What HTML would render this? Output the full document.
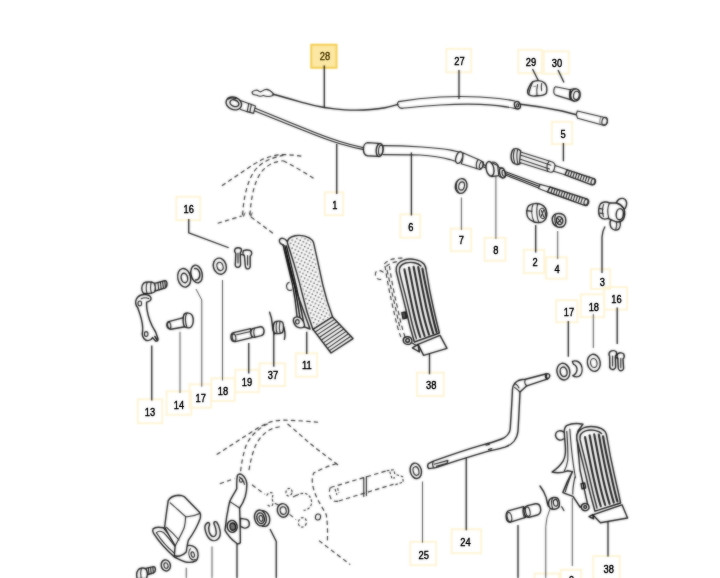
<!DOCTYPE html>
<html lang="en">
<head>
<meta charset="utf-8">
<title>Parts diagram</title>
<style>
html,body{margin:0;padding:0;background:#fff;}
body{width:720px;height:578px;overflow:hidden;position:relative;font-family:"Liberation Sans",sans-serif;}
svg{position:absolute;left:0;top:0;display:block;}
.l{stroke:#161616;stroke-width:1.1;fill:none;stroke-linecap:round;stroke-linejoin:round;}
.lw{stroke:#161616;stroke-width:1.1;fill:#fff;stroke-linecap:round;stroke-linejoin:round;}
.k{stroke:#111;stroke-width:1.4;fill:none;stroke-linecap:round;stroke-linejoin:round;}
.kw{stroke:#111;stroke-width:1.4;fill:#fff;stroke-linecap:round;stroke-linejoin:round;}
.t{stroke:#555;stroke-width:.8;fill:none;stroke-linecap:round;stroke-linejoin:round;}
.d{stroke:#2a2a2a;stroke-width:1.15;fill:none;stroke-dasharray:4.4 3.2;stroke-linecap:butt;}
.ld{stroke:#111;stroke-width:1.3;fill:none;stroke-linecap:butt;}
.lg{stroke:#4a4a4a;stroke-width:1;}
.bx{fill:none;stroke:#fef4d6;stroke-width:2;}
.bh{fill:#fce8a4;stroke:#f3cd52;stroke-width:2;}
.n{font-family:"Liberation Sans",sans-serif;font-size:11.5px;font-weight:400;fill:#111;stroke:#111;stroke-width:.35;text-anchor:middle;}
.nh{fill:#5e4c12;stroke:#5e4c12;}
</style>
</head>
<body>
<svg width="720" height="578" viewBox="0 0 720 578">
<defs><filter id="soft2" x="-10%" y="-10%" width="120%" height="120%" color-interpolation-filters="sRGB"><feGaussianBlur in="SourceGraphic" stdDeviation="0.9" result="b"/><feComposite in="b" in2="SourceGraphic" operator="arithmetic" k1="0" k2="0.45" k3="0.75" k4="0"/></filter><filter id="soft" x="-2%" y="-2%" width="104%" height="104%" color-interpolation-filters="sRGB"><feGaussianBlur in="SourceGraphic" stdDeviation="0.9" result="b"/><feComposite in="b" in2="SourceGraphic" operator="arithmetic" k1="0" k2="0.6" k3="0.4" k4="0"/></filter></defs>
<g filter="url(#soft)">
<g id="boxes">
<rect class="bh" x="311.25" y="44.75" width="25.25" height="23.00"/>
<rect class="bx" x="446.40" y="48.90" width="24.70" height="23.40"/>
<rect class="bx" x="518.30" y="49.80" width="23.40" height="23.40"/>
<rect class="bx" x="543.80" y="51.30" width="24.90" height="22.40"/>
<rect class="bx" x="551.80" y="121.80" width="20.40" height="22.40"/>
<rect class="bx" x="176.30" y="196.80" width="23.90" height="23.40"/>
<rect class="bx" x="324.80" y="192.30" width="18.40" height="22.90"/>
<rect class="bx" x="400.30" y="214.30" width="19.90" height="23.40"/>
<rect class="bx" x="450.80" y="228.55" width="20.40" height="22.65"/>
<rect class="bx" x="484.55" y="237.80" width="20.90" height="22.90"/>
<rect class="bx" x="523.80" y="249.80" width="20.40" height="23.40"/>
<rect class="bx" x="546.10" y="257.30" width="20.60" height="21.40"/>
<rect class="bx" x="590.90" y="269.20" width="19.30" height="19.80"/>
<rect class="bx" x="556.10" y="300.20" width="21.30" height="22.00"/>
<rect class="bx" x="580.80" y="294.40" width="23.40" height="22.80"/>
<rect class="bx" x="604.20" y="287.10" width="22.90" height="22.50"/>
<rect class="bx" x="137.80" y="399.30" width="24.40" height="23.90"/>
<rect class="bx" x="166.55" y="391.30" width="24.65" height="23.40"/>
<rect class="bx" x="189.55" y="384.30" width="21.65" height="23.40"/>
<rect class="bx" x="211.30" y="378.30" width="23.40" height="22.65"/>
<rect class="bx" x="235.30" y="369.80" width="23.40" height="22.40"/>
<rect class="bx" x="259.55" y="363.30" width="25.65" height="22.65"/>
<rect class="bx" x="295.80" y="353.30" width="21.40" height="23.40"/>
<rect class="bx" x="417.05" y="372.55" width="26.65" height="23.40"/>
<rect class="bx" x="410.30" y="541.80" width="25.90" height="23.40"/>
<rect class="bx" x="451.55" y="529.30" width="29.65" height="23.90"/>
<rect class="bx" x="593.30" y="556.05" width="26.40" height="24.15"/>
<rect class="bx" x="534.55" y="573.55" width="24.65" height="21.65"/>
<rect class="bx" x="560.80" y="569.80" width="20.40" height="21.40"/>
</g>
<!-- 00_leaders.svg -->
<g id="leaders" class="ld">
<path d="M324.3 65.5V107.5"/>
<path d="M459 70V99"/>
<path d="M532.5 69L540 84"/>
<path d="M558 70L564 82.5"/>
<path d="M563.4 143V161.25"/>
<path d="M336.75 144V194"/>
<path d="M411.4 152.5V215.5"/>
<path class="lg" d="M461.4 197.5V230"/>
<path class="lg" d="M495.9 172.5V239"/>
<path d="M535.7 225V252.5"/>
<path class="lg" d="M557.7 231V259"/>
<path d="M605 226.5Q602.3 231 602 237V273"/>
<path d="M188.75 219V232.75L228.75 247.75"/>
<path class="lg" d="M222.5 280V380.5"/>
<path class="lg" d="M196 289L201.75 300V386.75"/>
<path d="M151.75 345.5V400.5"/>
<path class="lg" d="M180 331.75V393"/>
<path d="M248.75 343V373.5"/>
<path d="M273.75 333V366.75"/>
<path d="M306.75 331.75V354"/>
<path d="M429.5 349.25V374.25"/>
<path d="M568.3 321V356.75"/>
<path class="lg" d="M593.3 314V348"/>
<path d="M617.2 307.5V344"/>
<path class="lg" d="M422.5 481.5V542.75"/>
<path d="M466.25 457.75V530.25"/>
<path d="M608 516.5V556.5"/>
<path d="M518 525V578"/>
<path class="lg" d="M550 509Q546 518 545.75 526.5V578"/>
<path class="lg" d="M572.3 498V566"/>
<path class="lg" d="M186.25 567.75V578"/>
<path class="lg" d="M212 546.5V578"/>
<path d="M237 544V578"/>
<path d="M270 529L276.25 541.5V578"/>
</g>

<!-- 05_dashed.svg -->
<g id="dashTop" class="d">
<path d="M221.900 185.800L254.200 164C260 160.400 265 158 270.800 156.500C275 155.200 279 154.600 283.300 154.600C290 154.600 296 155.400 302 156.250"/>
<path d="M283.300 160.800C294 166 306 173.600 315.600 179.600"/>
<path d="M242.700 215C243 207 244 199.600 245.800 192C247.600 184 250.400 177 254.200 171.250C258 166 263 162.400 268.750 159.800C273 158 278 156.200 283.300 155.400"/>
<path d="M250 215C250.400 207 251.400 199.600 253 192C254.600 185 257 178.600 260.400 173.300C263.600 168.600 268 165.400 273 163C276 161.800 279.600 161.200 283.300 160.800"/>
<path d="M217.700 223.300L241.700 216"/>
<path d="M251 217L275 234.800"/>
<path d="M242 212.600L243.600 216.400L245.200 212.600M249.200 212.600L250.800 216.400L252.400 212.600" stroke-dasharray="none" stroke-width=".8"/>
</g>
<g id="dashBot" class="d">
<path d="M216.700 454.600L252 431.700C258 428 264 424 270.800 421.800C276 420.400 282 420 287.500 420.200C298 420.600 309 421.400 318.750 422.300"/>
<path d="M287.500 424C295 430 302 436.600 308.300 442C317 449.400 327 456.600 338.750 465.600"/>
<path d="M240.600 471.250C241.600 462 243.400 454 245.800 446.250C248.400 440 252 435.600 256.250 431.700C260.600 427.600 265.600 424.400 270.800 422.300"/>
<path d="M249 470.200C250.400 461 252.600 453 255.200 446.250C258 440 262 435.400 266.700 431.700C271 428.600 276 427.200 281.250 426.500"/>
<path d="M219.800 483.750L234.400 478.500"/>
<path d="M252 484.800L264.600 494.200"/>
<path d="M336.700 463.500C328 466 320 469.600 313.750 473C312 477 312 481 312.700 485.400C313.800 490.600 315.600 495.400 318 500C320.600 505 323.600 509.800 326.250 514.600C327.600 523 327.800 532.600 327.300 541.700"/>
<path d="M319 540.600C329 548.600 340 556.600 350.200 564.600"/>
<path d="M330.400 487.500L386.700 470.800"/>
<path d="M338.750 501L393 484.400"/>
<path d="M330.400 487.500C328.600 491 329.200 496.400 331.600 499.600C333.600 501.600 336.400 501.800 338.750 501"/>
<path stroke-dasharray="2.6 1.8" d="M335 489L337 495M337.600 488.200L339 493"/>
<path stroke-dasharray="2.6 1.8" d="M386.700 470.800L393.600 469.800L395 474.200L402.600 476.600L403.300 482L395.600 484.600L393 484.400"/>
<path stroke-dasharray="2.6 1.8" d="M389.800 471.600L392 478.600L395 477.600"/>
<path stroke-dasharray="2.6 1.8" d="M266.700 495.600C267.600 493.400 270 492.200 272 492.800C273.400 494.400 273 496.600 271.600 498.400C272.800 500 273.600 503.200 272.400 505.200C270.800 506.600 268.400 506.200 267.400 504.600"/>
<ellipse stroke-dasharray="2.6 1.8" cx="289" cy="492.200" rx="3" ry="3.800" transform="rotate(14 289 492.200)"/>
<path stroke-dasharray="2.6 1.8" d="M296.600 495.600C299.600 493.200 304 492.600 307.400 494.400C310.600 496.400 312.200 500.400 311.400 504.200C310.400 507.600 307.400 510 303.600 510.400"/>
<ellipse stroke-dasharray="2.6 1.8" cx="302.400" cy="522.400" rx="4" ry="4.800" transform="rotate(14 302.400 522.400)"/>
<path d="M293 497L300 493.500M274.800 503.200L279.600 505.600M289.600 514.400L296 519.600"/>
</g>
<g id="solidBot">
<path class="l" stroke-width="1.600" d="M363.750 477.600V496.400M366.400 476.600V495.600" stroke-linecap="butt"/>
<ellipse class="l" cx="318" cy="517" rx="2.600" ry="3" transform="rotate(10 318 517)"/>
<ellipse class="k" cx="283" cy="510.400" rx="5.600" ry="6.800" transform="rotate(-10 283 510.400)"/>
<ellipse class="l" cx="283.200" cy="510.600" rx="3" ry="3.800" transform="rotate(-10 283.200 510.600)"/>
</g>

<!-- 10_cables.svg -->
<g id="cable28">
<path class="l" d="M252 92.2C254 89.6 257.5 89.6 259.5 91.6C261.5 93 263 89.2 266.5 89.4C269.5 89.6 271.5 91.6 273.2 93.4L273 95.4C270 96.6 266 96.6 263.5 95.4C261.5 96.6 258.5 96.2 256.5 95C254.5 95.2 252.3 94.4 252 92.2Z"/>
<path class="k" d="M273 94.2C284 97 296 100.6 305 103.2C316 106.4 330 109 345 109.9C360 110.6 376 109.4 385 107.8C390 106.8 394 105.4 398 104.4"/>
</g>
<g id="sheath27" transform="translate(0 .4)">
<path class="l" d="M398.6 101.2C410 99.4 425 97.6 440 96.6C455 95.8 470 96 480 96.6C492 97.4 505 98.6 515 100.6"/>
<path class="l" d="M401.6 108C412 107 425 105.6 440 104.6C455 103.8 470 103.6 480 104C492 104.6 505 106 516 108.2"/>
<path class="l" d="M398.6 101.2C397 102.6 397.4 104.4 398.4 105.8C399.2 107 400.2 107.8 401.6 108"/>
<ellipse class="k" cx="517.4" cy="104.8" rx="2.8" ry="3.8" transform="rotate(-20 517.4 104.8)"/>
<ellipse class="l" cx="517.6" cy="105" rx="1" ry="1.6"/>
<path class="k" d="M520.6 103.8C535 105.4 550 108 562 110.6L576.4 114.4"/>
</g>
<g id="end27">
<path class="lw" d="M577.4 111L603.6 117.3C606.6 118 607.8 120 607.4 122.2C607 124.4 605 125.6 602.4 125L577.6 118.2L576.2 114.4Z"/>
<ellipse class="l" cx="604.6" cy="121.2" rx="2.6" ry="4" transform="rotate(14 604.6 121.2)"/>
<path class="t" d="M601 116.8C599.6 119 599.4 122 600.2 124.4"/>
</g>
<g id="cap29">
<path class="kw" d="M533 81.6C537 80.2 542 80.6 544.6 83C546.6 85.4 547.2 90 546.4 93.2C545 95.2 541 95.8 537 95.8C533.6 96.4 530.4 96.2 528.6 94.6C527.2 92.8 527.6 90 528.8 87.6C529.8 85 531 82.8 533 81.6Z"/>
<path class="l" d="M528.6 94.600C529.6 90.5 530.600 86 533 81.6"/>
<path class="l" d="M537.6 84.5C536.6 88 536.6 92 537 95.8"/>
<path class="l" d="M541.600 83.600C541.2 86 541.2 88.4 541.6 90.6"/>
<path class="t" d="M533.6 86.6L535.6 86.200"/>
</g>
<g id="sleeve30">
<path class="lw" d="M555.600 86.8L570.4 89.8L570.4 99.6L556.4 95.4C554.4 94.8 553.6 92.8 553.8 90.600C554 88.4 554.600 87 555.600 86.8Z"/>
<ellipse class="kw" cx="575.4" cy="95" rx="4.8" ry="6.200" transform="rotate(10 575.4 95)"/>
<ellipse class="l" cx="576.4" cy="95.4" rx="2.8" ry="4.200" transform="rotate(10 576.4 95.4)"/>
<path class="l" d="M570.4 89.600C572 88.8 574 88.600 575.4 88.8M570.4 99.600C571.4 100.600 573 101.2 574.600 101.2"/>
<path class="l" d="M570.4 89.800C569.2 93 569.4 97 570.4 99.600"/>
</g>
<g id="cable1">
<ellipse class="k" cx="233.8" cy="103.400" rx="8" ry="6.200" transform="rotate(22 233.8 103.400)"/>
<ellipse class="k" cx="234.400" cy="103.200" rx="4.600" ry="3.200" transform="rotate(22 234.400 103.200)"/>
<path class="l" d="M228.400 99.200C230 97.800 233 97.600 236 98.600"/>
<path class="l" d="M240.400 100.400L248.600 103.600M240.600 109.400L247.400 111.800"/>
<path class="lw" d="M248.800 103.400L255.400 106L253.600 113.400L247.200 111.600Z"/>
<path class="l" d="M251.400 104.400L249.800 112.400"/>
<path class="l" d="M255.200 108.200C270 114.400 288 121.600 305 128.600C318 134 330 138.400 340 141.600C348 144.200 356 146.200 364 147.800"/>
<path class="l" d="M254.200 110.800C270 117 288 124.400 305 131C318 136.200 330 140.800 340 143.800C348 146.200 356 148.200 364 149.600"/>
</g>
<g id="sheath6">
<path class="kw" d="M367.600 142.600C365.200 142.800 363.400 145.600 363.400 149C363.400 152.600 365 155.400 367.400 155.800L378 156.400L378.600 143.400Z"/>
<ellipse class="kw" cx="379.600" cy="150" rx="3.400" ry="6.600" transform="rotate(6 379.600 150)"/>
<ellipse class="l" cx="380.800" cy="150.200" rx="2.200" ry="5" transform="rotate(6 380.800 150.200)"/>
<path class="l" d="M383 145.600C395 145.600 410 146.200 422 147C432 147.600 445 149 452 150.400L459 152"/>
<path class="l" d="M383.200 154.600C395 154.600 410 154.600 420 155C430 155.600 443 157.600 450 159.600L456.600 161.800"/>
<ellipse class="kw" cx="459.200" cy="157.600" rx="3.200" ry="6" transform="rotate(18 459.200 157.600)"/>
<path class="lw" d="M462.800 152.800L480.600 160.400C482.800 161.400 483.400 163.800 482.800 166.200C482.200 168.600 480.800 169.800 479 169.200L461.200 163.800C462.800 160.200 463.400 156 462.800 152.800Z"/>
<path class="l" d="M478 159.600C476.400 162.200 476 166 476.800 168.600"/>
<ellipse class="l" cx="481.400" cy="165" rx="1.800" ry="3.600" transform="rotate(18 481.400 165)"/>
</g>
<g id="collar8">
<path class="l" d="M483.400 164.600L487 166.200M483 166.800L486.600 168.200"/>
<path class="lw" d="M491 162.200L497.600 165.600L498.800 175.600L491.400 176.600Z"/>
<ellipse class="kw" cx="490" cy="168.800" rx="3.800" ry="7.400" transform="rotate(-12 490 168.800)"/>
<path class="l" d="M492.600 162C495 162 497.400 163.600 498.600 166.600"/>
<ellipse class="kw" cx="502.400" cy="173" rx="2.800" ry="5" transform="rotate(-14 502.400 173)"/>
<path class="l" d="M498.800 167.600L502 168M499.400 176.600L502.400 178"/>
<ellipse class="l" cx="503.800" cy="173.400" rx="1.600" ry="3.200" transform="rotate(-14 503.800 173.400)"/>
<path class="l" d="M505.600 171.800L540 184.600M505.400 175L538.600 188"/>
<path class="l" d="M505.600 173.400L539 186.200"/>
</g>
<g id="thread8">
<path class="lw" d="M540 184.400L550 187L547.600 192L538.600 188.400Z"/>
<path class="kw" d="M550 187L586 198.600C588.400 199.400 589 201.400 588.400 203.200C587.800 205 586 205.800 584 205.200L547.600 192Z"/>
<path class="l" d="M552.500 188.200l-1.600 4.600M555 189l-1.600 4.800M557.500 189.800l-1.600 4.800M560 190.600l-1.600 4.800M562.500 191.400l-1.600 4.800M565 192.200l-1.600 4.800M567.500 193l-1.600 4.800M570 193.800l-1.600 4.800M572.500 194.600l-1.600 4.800M575 195.400l-1.600 4.800M577.500 196.200l-1.600 4.800M580 197l-1.600 4.800M582.500 197.800l-1.600 4.800"/>
<ellipse class="l" cx="586" cy="202" rx="1.800" ry="3.200" transform="rotate(18 586 202)"/>
</g>
<g id="adj5">
<path class="kw" d="M513.400 149.200C515.600 148.200 518.600 148.800 520.600 150.800L520.200 163.600C518 164.800 515 164.400 513 162.800C511.200 160.400 510.800 156.400 511.400 153.400C511.800 151.400 512.400 150 513.400 149.200Z"/>
<path class="l" d="M514.400 150C513.200 153.600 513.200 158.400 514.600 162.400M517.600 149.600C516.600 153.600 516.600 158.600 517.800 163.400"/>
<path class="lw" d="M520.600 152L552.400 162C554.400 162.800 555.400 164.800 555 167.400C554.600 170 553 172.400 550.600 172.200L519.600 162.400Z"/>
<path class="l" d="M521 155.200L551 165.200M520.400 159.200L549.600 169"/>
<path class="l" d="M549 161.200C547 164 546.600 168.400 547.800 171.400"/>
<path class="lw" d="M555.200 165.600L567.400 169.800L565 174.800L553.600 171.200Z"/>
<path class="kw" d="M567.400 169.800L593 178.400C595.200 179.200 595.800 181 595.200 182.800C594.600 184.600 593 185.200 591 184.600L565 174.800Z"/>
<path class="l" d="M569.500 170.600l-1.600 4.800M572 171.400l-1.600 4.800M574.500 172.200l-1.600 4.800M577 173l-1.600 4.800M579.500 173.800l-1.600 4.800M582 174.600l-1.600 4.800M584.500 175.400l-1.600 4.800M587 176.200l-1.600 4.800M589.500 177l-1.600 4.800"/>
<ellipse class="l" cx="593" cy="181.600" rx="1.800" ry="3.200" transform="rotate(18 593 181.600)"/>
</g>
<g id="washer7">
<ellipse class="kw" cx="461.200" cy="186" rx="5.800" ry="7.400" transform="rotate(12 461.200 186)"/>
<ellipse class="l" cx="461.600" cy="186" rx="2.800" ry="4.200" transform="rotate(12 461.600 186)"/>
<path class="l" d="M456.800 182C456 185 456.400 189.600 458.400 192.200"/>
</g>

<!-- 20_midleft.svg -->
<g id="lever13">
<path class="kw" d="M154.600 283.400L164.600 280.800C166.200 280.400 167 281.800 167 283.600C167 285.800 166.400 287.600 164.800 288.200L155 291Z"/>
<path class="l" d="M158 282.600l.8 7.400M160.400 282l.8 7.200M162.600 281.400l.8 7M164.800 280.800l.6 6.800"/>
<path class="kw" d="M143.600 283.200C146 281.800 151.400 281.600 154 283C155.400 285.400 155.600 289.600 154.400 292C151.800 293.600 146.400 294 143.400 293.200C141.200 291 141.200 285.800 143.600 283.200Z"/>
<path class="l" d="M147.200 282.400C146 285.600 146 290.200 147.200 293.600M151.400 282C150.400 285.400 150.400 290 151.600 293.200"/>
<path class="kw" d="M136.800 298.400C138.400 296 142.200 294.200 146 294.600C149.200 295 151.200 296.800 151 299C150.800 300.600 148.800 301.600 146.600 302.200C146.200 308 147.600 314 149.600 320C151.200 324.600 153.400 328.600 155.600 332L158 338.800C158.400 340.600 156.800 341.800 155.200 340.600L152.600 337.600C151.200 339.800 148.200 341.200 145.600 340C142.800 338.600 141.600 334.600 142.600 331C143 326.200 141.800 320 140.200 315C139 311.400 138.200 308.800 137.600 307.400C135.200 305.200 135 301 136.800 298.400Z"/>
<ellipse class="l" cx="139.800" cy="303.400" rx="1.800" ry="2.400"/>
<ellipse class="l" cx="146.200" cy="334" rx="1.800" ry="2.400"/>
<path class="l" d="M141.200 298.800C143.600 297.600 146.400 297.600 148.600 298.600"/>
<path class="k" d="M154.800 336.400L157.200 340"/>
</g>
<g id="pin14">
<path class="kw" d="M168.600 321.600L183.600 317.600L185 326.800L171 329.200C168.800 329.400 167 327.800 166.800 325.400C166.800 323.400 167.400 322 168.600 321.600Z"/>
<ellipse class="l" cx="169.200" cy="325.400" rx="1.600" ry="3.200" transform="rotate(-10 169.200 325.400)"/>
<path class="kw" d="M184 314.400C186.400 312.400 190.400 312.600 192.200 315.400C193.800 318.400 193.600 323.600 191.600 326.400C189.800 328.200 186.400 328.400 184.400 326.600C182.800 323.400 182.600 317.600 184 314.400Z"/>
<path class="l" d="M186.600 313.400C185.200 317 185.400 323.200 187 327.400"/>
</g>
<g id="bush17">
<ellipse class="kw" cx="196.600" cy="274" rx="5.600" ry="9" transform="rotate(-12 196.600 274)"/>
<path class="k" d="M194.600 268.600C197.400 268 199.600 270.800 199.800 274.200C200 277.600 198.200 280.400 195.600 280"/>
<ellipse class="kw" cx="184.200" cy="277.800" rx="6.400" ry="9.400" transform="rotate(-12 184.200 277.800)"/>
<ellipse class="k" cx="184.400" cy="278" rx="3.200" ry="4.800" transform="rotate(-12 184.400 278)"/>
</g>
<g id="washer18">
<ellipse class="kw" cx="219.800" cy="266.200" rx="6.400" ry="8.200" transform="rotate(-16 219.800 266.200)"/>
<ellipse class="l" cx="220" cy="266.400" rx="3" ry="4.200" transform="rotate(-16 220 266.400)"/>
</g>
<g id="clip16">
<path class="kw" d="M235.400 248.600C236.600 247.400 239.600 247.400 241 248.600C241.800 250.200 241.200 252 240.200 253L240.600 264.600C240.400 266.800 238.400 267.800 236.600 267.200C235.200 266.400 235 264.600 235.400 263L235.800 253.400C234.600 252.200 234.400 250 235.400 248.600Z"/>
<path class="kw" d="M243.600 250.600C245.400 249.600 249.600 249.800 251.200 251.200C252 253 251.400 255.200 250.200 256.200L250.200 266.400C250 268.400 248.400 269.200 246.800 268.800C245.400 268.200 245.200 266.600 245.200 265L244.400 256C243 254.800 242.600 252.200 243.600 250.600Z"/>
<path class="l" d="M240.600 254.400L244.400 255.200M238 253V263M247.600 255.600V265"/>
</g>
<g id="pin19">
<path class="kw" d="M233.400 332.600L250.600 328.600L252 337.600L235.200 341.600C232.800 342 231.200 340.400 231 337.800C230.800 335.400 231.600 333 233.400 332.600Z"/>
<ellipse class="l" cx="234" cy="337.400" rx="1.800" ry="3.600" transform="rotate(-10 234 337.400)"/>
<path class="l" d="M236.600 334.800L249.600 331.800"/>
<path class="kw" d="M253.400 328.400L260.400 326.800C262.400 326.600 263.800 328.200 264 330.600C264.200 333 263.200 335 261.200 335.600L254.400 337.400C252.600 337.600 251 335.800 250.800 333.200C250.600 330.800 251.600 328.800 253.400 328.400Z"/>
<path class="l" d="M254.600 328.200C253.200 330.800 253.600 335 255.200 337.200"/>
</g>
<g id="spring37">
<path class="k" d="M269.600 312.200C271.200 316 272 320 272.200 324C272.400 327.600 273 331.400 274.200 334"/>
<path class="kw" d="M274.400 322.400C276.600 320.800 280.600 320.800 282.600 322.200C283.800 324.600 283.800 330 282.600 332.400C280.400 334 276.200 334 274.200 332.800C272.800 330 273 325 274.400 322.400Z"/>
<path class="l" d="M277 321.400C276 324.600 276 330 277.200 333.400M280 321.400C279.200 325 279.200 330 280.200 333.400"/>
<path class="k" d="M283.400 326C284.800 330 285.600 335 284.400 339.400"/>
</g>

<!-- 30_pedals.svg -->
<defs>
<pattern id="dots" x="0" y="0" width="5" height="5" patternUnits="userSpaceOnUse" patternTransform="rotate(-18)">
<circle cx="1.200" cy="1.200" r=".800" fill="#111"/>
<circle cx="3.700" cy="3.700" r=".800" fill="#111"/>
</pattern>
</defs>
<g id="pedal11">
<path class="k" d="M287 241.200C284.600 238 281 237.400 279.600 239.600C278.600 242 280.400 244.400 283.200 245"/>
<path class="kw" d="M283 244.600C286 258 289.600 272 292.400 284C294.400 294 296 305 297 316.400L300.600 325.600L310 329L296 290Z"/>
<path class="k" d="M284.800 245.600C288 259 291.600 273 294.400 285C296.600 296 298.400 308 300.600 321.400"/>
<path class="k" d="M286.400 246C290 260 293.400 274 296.200 286C298.400 296 300.800 308 303.600 322"/>
<path class="l" d="M289.200 282.400C286.600 283 286 286 287 288.400C288 290.400 290 290.800 291.600 290"/>
<path class="kw" d="M287.400 243C287.200 240 290 237 295 235.800C301 234.600 309 236.400 312.400 240.400C313.400 241.800 313.800 243.200 314 244.600C317 258 320 272 322.800 285C325.400 296 328.800 307 332.500 316.800L313 329.600C308.600 318 305 306 302 293C298 276 292.400 258 287.400 243Z"/>
<path fill="url(#dots)" stroke="none" d="M289.400 243.200C289.400 241 291.400 238.600 295.400 237.600C301 236.600 308 238 311 241.400C314 256 318 272 321 285C323.600 296 326.800 307 330.400 316L313.800 326.800C309.800 316 306.400 305 303.600 293C299.600 276 294 258 289.400 243.200Z"/>
<path class="kw" d="M313 329.400L332.500 317L353 338.600L331 353Z"/>
<path class="l" d="M315.200 332l19.400-12.600M317.400 334.600l19.500-12.800M319.600 337.200l19.600-13M321.800 339.800l19.700-13.200M324 342.400l19.800-13.400M326.200 345l19.900-13.600M328.400 347.600l20-13.800M329.800 350.400l21-14.200"/>
<path class="kw" d="M293.600 318.600C294.800 316.600 298 316.400 300 317.800C302.400 319.600 304.400 323 304.600 326.200C303 328.200 299.600 328.200 297 326.800C294.200 325 292.800 321 293.600 318.600Z"/>
<ellipse class="l" cx="297.400" cy="321.800" rx="1.800" ry="2.200"/>
</g>
<g id="pedal38c">
<path class="d" d="M383.600 272.400C381 270.400 378 270 376.200 271.600C374.600 273.600 375.200 277 377.600 278.800C379.600 280 382 279.600 383.200 278"/>
<path class="d" d="M384.300 264C387 260.400 394 257.600 403 258.200"/>
<path class="d" d="M386.200 266.400C389 263.600 394 261.600 400 261.200"/>
<path class="d" d="M385 266C387 280 390.600 298 394 312C396 322 398.600 331 401.200 338"/>
<path class="d" d="M389.400 266C391.400 280 394.600 296 398 310C400 320 402.400 329 405 337"/>
<path class="d" stroke-dasharray="1.400 3.200" d="M387 270L400.400 330" stroke-width="3.400"/>
<path class="kw" d="M396.200 271C395.400 266 398.600 261.600 404.600 259.800C411.400 258 420 259.600 424 264C425.400 266 426 268 426.200 270.400C428 282 430.400 295 433.400 308C435.400 317 437.600 326 439.400 333L414.400 342C411.200 332 408.600 322 406.200 311C403 297 399 283 396.200 271Z"/>
<path class="k" d="M416.400 338.600C413.600 330 411.400 321 409.200 311C406 297 402 283 399.400 271.600C398.800 267.600 401.200 264.400 405.600 263C411.400 261.600 418 262.800 421 266"/>
<g stroke="#111" stroke-width="2.100" fill="none" stroke-linecap="round">
<path d="M404.400 269.400C407.200 283 410 297 413.200 311C415.200 320 417.600 329.400 420.200 337"/>
<path d="M409 267.600C411.600 281 414.400 296 417.600 310C419.600 319 422 328.400 424.600 336"/>
<path d="M413.600 266.800C416.200 280 419 295 422 309C424 318 426.400 327 429 334.600"/>
<path d="M418.200 267C420.600 280 423.400 294 426.400 308C428.400 317 430.800 326 433.200 333.400"/>
<path d="M422.400 268.600C424.600 281 427.400 294 430.400 307C432.400 316 434.400 324.400 436.600 332"/>
</g>
<path class="k" d="M401.800 312.600L405.400 312L406.600 318L403 318.800Z" style="fill:#555"/>
<path class="kw" d="M412.400 347.800L418 344.400L419.400 352Z"/>
<path class="kw" d="M418 344.400L440 335.400L447 348.400L423.600 355.400Z"/>
<path class="kw" d="M404.400 337.600C406.400 336.200 409.600 336.600 411.200 338.400C412.400 340.200 412 342.600 410.400 343.800C408.400 344.800 405.400 344.400 404 342.600C403 341 403.200 338.800 404.400 337.600Z"/>
<ellipse class="k" cx="407.600" cy="340.400" rx="1.800" ry="1.800" fill="#555"/>
<path class="l" d="M411.200 342.600L416 345.200"/>
</g>

<!-- 40_midright.svg -->
<g id="nut2">
<path class="kw" d="M529 205.600C531.600 203.400 537 202.800 541.400 204.600C544.600 206.200 546.600 209.600 546.800 213.400C547 217 545.400 220.400 542.400 221.800C538.600 223.200 533.400 222.400 530 219.800C527.400 217.600 526.400 214 526.800 210.600C527 208.400 527.800 206.800 529 205.600Z"/>
<path class="l" d="M533 204.200C531.200 208.600 531.400 215.800 533.800 221.200M537.600 203.600C536.400 208.600 536.600 216.600 538.800 222.600"/>
<ellipse class="l" cx="542.400" cy="213.400" rx="3" ry="5.200" transform="rotate(-8 542.400 213.400)"/>
<path class="l" d="M541.400 210.600L543.600 216.600M543.600 210.400L541.200 216.200"/>
<path class="l" d="M527 210.600L532 211.400"/>
</g>
<g id="nut4">
<path class="kw" d="M554 215C556 213.200 560.600 213 563.400 214.800C565.400 216.600 566.200 220.400 565.400 223.600C564.200 226.600 561 227.800 557.800 227C554.600 226 552.400 223 552.200 219.600C552.200 217.600 552.800 216 554 215Z"/>
<ellipse class="k" cx="559.600" cy="220.600" rx="3.200" ry="4" transform="rotate(-10 559.600 220.600)"/>
<path class="l" d="M557.600 218.400L561.600 223M561.800 218.400L557.600 222.800M555.600 214.200C554.600 217 554.800 222 556.400 226"/>
</g>
<g id="clamp3">
<path class="kw" d="M616.400 203C617 200 620 198 623 198.400C626 199 627.200 202 626.400 205.400C625.800 208 623.600 210.200 621 210.400Z"/>
<path class="kw" d="M611.400 218.600L619.600 220.400C620.800 223.400 620.400 227.400 618.400 229.400C616 230.800 612.800 230 611 227.400C609.800 224.800 610 221 611.400 218.600Z"/>
<path class="l" d="M616.200 221C617 223.600 616.800 227 615.800 229.400"/>
<path class="kw" d="M600.600 203.600C603 201.800 607 201.400 609.400 203L616.400 203C619 203.600 621.600 205.400 623.400 208C625.400 211.400 625.200 217.400 622.400 220.400C620 222.400 616 222 613 220.600L608 218.400C605 219.600 601.600 218.800 599.800 216.400C598 213 598.400 206.600 600.600 203.600Z"/>
<ellipse class="k" cx="619.800" cy="214.200" rx="3.600" ry="5.600" transform="rotate(6 619.800 214.200)"/>
<path class="l" d="M609.400 203C607.600 207 607.400 213.400 608.800 218.200M603.600 204.600C602.200 208 602.200 212.600 603.400 216.400"/>
<path class="l" d="M599.400 208.400L603 209.200M599.600 213L603.200 213.600"/>
</g>
<g id="bush17r">
<path class="kw" d="M572.400 361.400C575.400 360 579.400 361.400 581 364.600C582.600 368 582.400 372.600 580.400 375.200C578.400 377.200 575 377.200 572.800 375.600C574.600 375 576.600 373 577 370.200C577.400 367.400 575.600 364.600 573.600 364.400C573 363.400 572.600 362.400 572.400 361.400Z"/>
<ellipse class="kw" cx="563.400" cy="371.600" rx="6.400" ry="8.400" transform="rotate(-12 563.400 371.600)"/>
<ellipse class="k" cx="563.600" cy="371.800" rx="3.400" ry="4.800" transform="rotate(-12 563.600 371.800)"/>
</g>
<g id="washer18r">
<ellipse class="kw" cx="593.800" cy="362.800" rx="6.400" ry="8.600" transform="rotate(-10 593.800 362.800)"/>
<ellipse class="l" cx="593.800" cy="363" rx="3.200" ry="4.600" transform="rotate(-10 593.800 363)"/>
</g>
<g id="clip16r">
<path class="kw" d="M610.200 351.600C612 350.200 615 350.400 616.400 352C617 353.800 616.400 355.600 615.400 356.400L615.600 367.200C615.200 369.200 613 370 611.200 369.200C609.800 368.400 609.400 366.600 609.800 365L609.600 356.400C608.800 355 609 352.800 610.200 351.600Z"/>
<path class="kw" d="M618 353.600C619.800 352.400 622.600 352.600 623.800 354.200C624.600 356 624 358 623 359L623.600 368.400C623.200 370.400 621.200 371.200 619.600 370.400C618.200 369.600 618 368 618.200 366.400L617.800 358.600C616.800 357.200 616.800 354.800 618 353.600Z"/>
<path class="l" d="M615.400 357.600L618 358.400M612.600 356V366M620.800 358.400V367.600"/>
</g>
<g id="rod24">
<path class="kw" d="M546.600 373.800L525.600 379.200C522 379.200 517.400 380.200 514.800 383.200C512.800 385.600 512.200 388.600 512.400 391.400C511.800 404 511 417 510.200 429C509.600 433 506.400 437 501.600 439C495 441.600 488 443.600 481 445.400C465 450 449 455.600 433.400 461.200L428.400 463.600C427.400 465.400 427.600 467.600 429 468.600L435.800 467.600C450 462.800 465 458 480 453.600C488 451.200 497 449.400 505 447.200C512 445 517.200 439 518 431C518.800 418 519.400 405 520 392L526.800 385.800L547.800 378.800C549.400 377.800 550 376.400 549.600 375C549 373.600 547.800 373.400 546.600 373.800Z"/>
<path class="k" d="M546.400 374.200C545.600 375.600 545.800 377.600 547 378.800" style="stroke-width:2"/>
<path class="l" d="M525.600 379.200C524.200 381.200 524.400 384.200 526.800 385.800"/>
<path class="l" d="M514.600 387.400C516.400 388.800 518.600 390.600 520 392M514.800 383.400C516.800 384.200 518.400 386 519 388"/>
<path class="l" d="M434 464.200L448 460.400M436.400 466.400L447 463.200L448 460.400"/>
<path class="l" d="M433.400 461.600C432 463.400 432.400 466.400 434 467.800"/>
<path class="l" d="M486 445.200L489.400 444.400M488.400 449.600L491.800 448.600"/>
</g>
<g id="washer25">
<ellipse class="kw" cx="415.800" cy="470.800" rx="5.600" ry="7.800" transform="rotate(-14 415.800 470.800)"/>
<ellipse class="l" cx="416" cy="471" rx="2.800" ry="4.400" transform="rotate(-14 416 471)"/>
</g>

<!-- 50_pedal38r.svg -->
<g id="pedal38r">
<path class="k" d="M563.600 432C560.600 430 557.400 430.600 556 433C554.800 435.400 556 438.400 558.400 439.600C560 440.400 562 440 563.400 439"/>
<path class="kw" d="M566.400 425.600C571 423.400 577.400 423 583 424.200L578 431L576.800 436L580 470L588 506L580 507L573 496.400C569.400 494.600 565.400 494.200 562.800 492.400C565.600 485 569 478 572.400 471.600L567.400 470.800C563 472.600 557 473.400 552 472C556.400 469 561 464.600 563.200 460.800C565.400 457 565.600 452 565.400 447.600C565 441.600 564.200 435.200 564.200 430.400C564.600 428.400 565.200 426.600 566.400 425.600Z"/>
<path class="l" d="M569.800 429C570.600 440 571.600 452 573 462C573.600 467 574.600 472.600 575.400 477.600"/>
<path class="l" d="M566.800 431.400C567.600 442 568.200 452 567.800 460C567.200 464 566 468 564.400 470.800"/>
<path class="l" d="M572.400 471.600C570 478 566.800 485.600 565.400 491.600M575 477C573.800 482 572.600 488 572.800 494"/>
<path class="kw" d="M576.800 438.600C576 433.600 579.400 429 585.400 427.200C592.400 425.400 601 427 605 431.400C606.400 433.400 606.800 435.400 607 437.600C609 450 611.600 463 614.600 476C616.600 485 618.800 494 620.600 503L595 511.200C591.800 500 589 490 586.600 479C583.400 465 579.600 451 576.800 438.600Z"/>
<path class="k" d="M597 508C594.200 498 592 489 589.800 479C586.600 465 582.600 451 580 439.200C579.400 435.200 581.800 432 586.200 430.600C592 429.200 598.600 430.400 601.600 433.600"/>
<g stroke="#111" stroke-width="2.100" fill="none" stroke-linecap="round">
<path d="M585 437C587.800 451 590.600 465 593.800 479C595.800 488 598.200 498 600.800 506.200"/>
<path d="M589.600 435.200C592.200 449 595 464 598.200 478C600.200 487 602.600 497 605.200 505"/>
<path d="M594.200 434.400C596.800 448 599.600 463 602.600 477C604.600 486 607 496 609.600 503.800"/>
<path d="M598.800 434.600C601.200 448 604 462 607 476C609 485 611.400 495 613.800 502.600"/>
<path d="M603 436.200C605.200 449 608 462 611 475C613 484 615 493.600 617.400 501.400"/>
</g>
<path class="k" d="M581 483.600L584.600 483L585.600 488L582 488.800Z"/>
<path class="kw" d="M589 516.600L592.800 514.600L593.600 518.800Z"/>
<path class="kw" d="M592.800 514.800L622 504.800L627.600 518L600.400 522.800Z"/>
<path class="kw" d="M582.400 504.400C584.400 503 587.200 503.400 588.400 505.200C589.400 507 589 509.200 587.400 510.200C585.600 511 583 510.600 581.800 509C581 507.600 581.200 505.400 582.400 504.400Z"/>
<ellipse class="k" cx="585.200" cy="507" rx="1.400" ry="1.400"/>
</g>
<g id="pin_br">
<path class="kw" d="M509 510.600L523.600 506.600L525.600 517.400L510.400 522.200C508 522.600 506.400 520.400 506.200 517.200C506 514 507 511.200 509 510.600Z"/>
<ellipse class="l" cx="509.400" cy="517" rx="2.200" ry="4.600" transform="rotate(-12 509.400 517)"/>
<path class="kw" d="M527.400 505.600L535.600 503.800C538.200 503.600 540.200 505.600 540.600 508.600C541 511.600 539.800 514.200 537.400 515L529 517.400C526.600 517.600 524.400 515.400 524 512C523.600 509 525 506.200 527.400 505.600Z"/>
<ellipse class="l" cx="527.800" cy="511.600" rx="2.200" ry="4.800" transform="rotate(-12 527.800 511.600)"/>
<path class="l" d="M523.600 506.600C522.400 509.600 522.800 514.600 524.600 517.600"/>
</g>
<g id="spring_br">
<path class="k" d="M540 486C542.600 489.400 545 493.600 546.200 497.600C546.800 500.200 547.200 503.400 548.400 506.200"/>
<path class="kw" d="M549.600 499.400C551.600 497.400 555.600 496.800 557.800 498.400C559.600 500.600 560 505.200 558.600 507.600C556.600 509.400 552.600 509.800 550.200 508.400C548.200 506.200 548 502 549.600 499.400Z"/>
<ellipse class="l" cx="555.600" cy="502.800" rx="2.200" ry="3.400" transform="rotate(-10 555.600 502.800)"/>
<path class="l" d="M552.400 498C551.400 501 551.600 506 552.800 509"/>
<path class="l" d="M561.600 506.600L564 510.600"/>
</g>

<!-- 60_bottomleft.svg -->
<g id="housing">
<path class="kw" d="M153 529C154.600 527.200 158.600 526.800 163.400 527.800L176 543L187.600 545.600C191 544.800 195 546.600 196.800 549.600C198.600 553 198.600 558 196.200 560.600C193 562.400 188.600 562.600 185.600 562C181.400 560.800 177.400 558.400 174.400 557C166 549.600 158.400 541 153.600 533.400C152.600 531.800 152.400 530.200 153 529Z"/>
<path class="l" d="M156.400 532.600C158 531 161 531 163.400 532.400C167.600 536.600 171.400 541.600 174.600 546"/>
<path class="l" d="M156.600 533C161 540 167.600 547.600 174.600 553.400"/>
<path class="l" d="M190.400 548.600C188.600 550.600 188.400 554.600 189.800 557.600C191.200 559.600 193.400 560.400 195.400 559.600"/>
<ellipse class="l" cx="192.800" cy="554.600" rx="1.600" ry="2.800" transform="rotate(-14 192.800 554.600)"/>
<path class="kw" d="M168.200 500.600C170 497.600 174.400 495.400 178.600 495.200C181 495.200 183 495.800 184.400 496.800L199.800 512.600C200.800 514.400 200.600 517 200 519C198.600 523 197 526 195.600 528.800C193.400 533 190.800 537 188.300 540.300C187.400 544 186.800 548 186.200 552C183.600 554.600 180 556.200 177.200 556.300L174.400 555.600C174.600 551.400 175 548.600 175.100 545.900C171.600 539.600 167.400 533 164.700 527C165.600 518 167 509 168.200 500.600Z"/>
<path class="l" d="M170.300 502.800C175 507 181 512.600 185.600 516.700C190 517 195.600 515.600 199.600 513.600"/>
<path class="l" d="M185.600 516.700C185.600 520.600 185 524.600 184.200 527.800C181.600 534 178 540.600 175.100 545.900"/>
<path class="l" d="M166.600 527.400C170.600 531 175.600 536 179 540"/>
</g>
<g id="cclip">
<path class="k" d="M207.600 522.600C205.600 523.800 204.600 526 205 528.600C205.600 532.600 207.400 537 210.200 539.400C212.600 541.200 216 541 218 539C220 537 220.600 533.600 220 530.400C219.400 527.400 218.200 524 216.800 522.200C215.600 521.200 214.200 521.600 213.800 523C214.800 525.400 216 529 216.200 531.600C216.400 534.400 215.400 536.400 213.400 536.600C211.400 536.400 209.800 534 209 531.200C208.400 528.800 208.800 526.200 209.600 524.400C209.400 523 208.600 522.200 207.600 522.600Z" style="fill:#fff"/>
</g>
<g id="leverB">
<path class="kw" d="M240.400 518.400L246.600 519.400C248.600 520.400 249.600 522.800 249.200 525.200C248.400 527.600 246 528.600 243.800 527.800L240.400 526.400Z"/>
<path class="kw" d="M237.400 475.400C238.600 473.800 240.600 473.800 242 474.800C244.600 476.800 246.400 480 246.800 483.600C247 488 246.400 492.600 245.100 497C243.800 501 241.800 505 239.600 508C240 519 240.400 531 240.300 542.800C238.800 544.400 236.800 544 236.100 542.800C232.400 540 228 535.600 225 530.300C226 520 227.600 510 229.900 501C232 496.600 234.800 492.600 236.800 488.600C236.600 484 236.600 479.600 237.400 475.400Z"/>
<path class="l" d="M229.900 501.600L239.600 508"/>
<ellipse class="l" cx="241" cy="480.200" rx="1.600" ry="2"/>
<path class="l" d="M239.400 477C241.600 478.400 243.800 481.400 244.400 484.400"/>
<ellipse class="k" cx="232.200" cy="526.400" rx="5" ry="6" transform="rotate(-10 232.200 526.400)"/>
<ellipse class="k" cx="232.800" cy="526.600" rx="2.800" ry="3.600" transform="rotate(-10 232.800 526.600)" style="fill:#777"/>
</g>
<g id="bushB">
<ellipse class="kw" cx="264" cy="518.600" rx="5.600" ry="7.800" transform="rotate(-14 264 518.600)"/>
<path class="lw" d="M258.600 510.400L263 510.800L266.400 525.600L262.400 526Z" style="stroke:none"/>
<path class="l" d="M259.800 510L264 511M262.400 526.200L266 526.200"/>
<ellipse class="kw" cx="260.400" cy="518" rx="5.800" ry="8" transform="rotate(-14 260.400 518)"/>
<ellipse class="k" cx="260.600" cy="518.200" rx="3.600" ry="5.400" transform="rotate(-14 260.600 518.200)"/>
<ellipse class="l" cx="261" cy="518.400" rx="1.800" ry="3" transform="rotate(-14 261 518.400)"/>
</g>
<g id="boltB">
<path class="kw" d="M145.600 568.400L153.600 566.600C154.800 566.600 155.400 567.800 155.400 569.400C155.400 571 154.800 572.400 153.600 572.800L146.400 575Z"/>
<path class="l" d="M148.400 568l.6 6.200M150.600 567.400l.6 6.200M152.800 567l.6 6"/>
<path class="kw" d="M138.400 569.600C140.600 567.600 144 567.600 146 569.200C147.400 571.400 147.600 575.600 146.400 578.600L137.600 579C136 576.600 136.400 572 138.400 569.600Z"/>
<path class="l" d="M141.400 568.400C140.400 571.600 140.400 575.600 141.200 578.600"/>
</g>
<g id="washerB">
<ellipse class="kw" cx="165.800" cy="565.400" rx="4.600" ry="5.600" transform="rotate(-14 165.800 565.400)"/>
<ellipse class="l" cx="166" cy="565.600" rx="2" ry="2.800" transform="rotate(-14 166 565.600)"/>
</g>

</g>
<g id="labels" filter="url(#soft2)">
<text class="n nh" transform="translate(325.00 60.30) scale(0.81 1)">28</text>
<text class="n" transform="translate(459.50 64.50) scale(0.81 1)">27</text>
<text class="n" transform="translate(531.00 66.10) scale(0.81 1)">29</text>
<text class="n" transform="translate(557.00 67.10) scale(0.81 1)">30</text>
<text class="n" transform="translate(563.00 138.10) scale(0.81 1)">5</text>
<text class="n" transform="translate(188.75 212.60) scale(0.81 1)">16</text>
<text class="n" transform="translate(334.75 208.60) scale(0.81 1)">1</text>
<text class="n" transform="translate(410.75 230.60) scale(0.81 1)">6</text>
<text class="n" transform="translate(461.25 244.35) scale(0.81 1)">7</text>
<text class="n" transform="translate(495.75 253.60) scale(0.81 1)">8</text>
<text class="n" transform="translate(535.00 266.10) scale(0.81 1)">2</text>
<text class="n" transform="translate(557.00 273.10) scale(0.81 1)">4</text>
<text class="n" transform="translate(602.30 285.50) scale(0.81 1)">3</text>
<text class="n" transform="translate(569.00 315.70) scale(0.81 1)">17</text>
<text class="n" transform="translate(593.80 310.70) scale(0.81 1)">18</text>
<text class="n" transform="translate(616.40 303.10) scale(0.81 1)">16</text>
<text class="n" transform="translate(150.00 416.10) scale(0.81 1)">13</text>
<text class="n" transform="translate(179.00 408.85) scale(0.81 1)">14</text>
<text class="n" transform="translate(200.75 401.60) scale(0.81 1)">17</text>
<text class="n" transform="translate(223.00 395.10) scale(0.81 1)">18</text>
<text class="n" transform="translate(247.00 385.85) scale(0.81 1)">19</text>
<text class="n" transform="translate(273.00 379.10) scale(0.81 1)">37</text>
<text class="n" transform="translate(306.75 369.10) scale(0.81 1)">11</text>
<text class="n" transform="translate(431.25 388.85) scale(0.81 1)">38</text>
<text class="n" transform="translate(423.75 558.60) scale(0.81 1)">25</text>
<text class="n" transform="translate(465.50 546.10) scale(0.81 1)">24</text>
<text class="n" transform="translate(608.75 573.10) scale(0.81 1)">38</text>
<text class="n" transform="translate(571.50 583.50) scale(0.81 1)">9</text>
</g>
</svg>
</body>
</html>
